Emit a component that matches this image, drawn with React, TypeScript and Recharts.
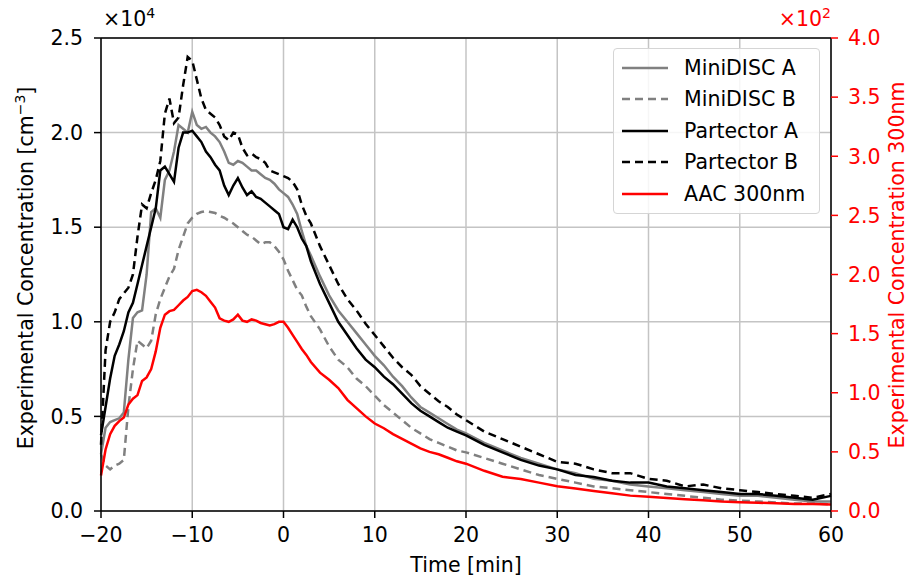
import {
    LineChart,
    Line,
    XAxis,
    YAxis,
    CartesianGrid,
    ReferenceLine,
} from "recharts";

// time in minutes
const TIME = [
    -20, -19.5, -19, -18.5, -18, -17.5, -17, -16.5, -16, -15.5, -15, -14.5, -14,
    -13.5, -13, -12.5, -12, -11.5, -11, -10.5, -10, -9.5, -9, -8.5, -8, -7.5, -7,
    -6.5, -6, -5.5, -5, -4.5, -4, -3.5, -3, -2.5, -2, -1.5, -1, -0.5, 0, 0.5, 1,
    1.5, 2, 2.5, 3, 4, 5, 6, 7, 8, 9, 10, 11, 12, 13, 14, 15, 16, 17, 18, 19, 20,
    22, 24, 26, 28, 30, 32, 34, 36, 38, 40, 42, 44, 46, 48, 50, 52, 54, 56, 58, 60,
];

// left axis, x10^4 cm^-3
const MINIDISC_A = [
    0.3, 0.44, 0.47, 0.48, 0.49, 0.52, 0.8, 1.02, 1.05, 1.06, 1.25, 1.58, 1.6,
    1.55, 1.75, 1.8, 1.9, 2.04, 2.02, 2.0, 2.11, 2.04, 2.02, 2.03, 2.0, 1.98, 1.95,
    1.9, 1.84, 1.83, 1.85, 1.84, 1.82, 1.8, 1.8, 1.78, 1.76, 1.75, 1.73, 1.7, 1.68,
    1.66, 1.62, 1.57, 1.48, 1.4, 1.35, 1.24, 1.14, 1.06, 1.0, 0.94, 0.88, 0.82,
    0.77, 0.71, 0.66, 0.6, 0.55, 0.52, 0.49, 0.46, 0.43, 0.41, 0.36, 0.32, 0.28,
    0.25, 0.22, 0.2, 0.17, 0.16, 0.14, 0.13, 0.12, 0.11, 0.1, 0.09, 0.08, 0.08,
    0.07, 0.06, 0.05, 0.05,
];

const MINIDISC_B = [
    0.3, 0.24, 0.22, 0.24, 0.25, 0.27, 0.55, 0.75, 0.9, 0.88, 0.86, 0.9, 1.04,
    1.12, 1.18, 1.24, 1.28, 1.38, 1.45, 1.52, 1.55, 1.57, 1.58, 1.585, 1.58, 1.575,
    1.56, 1.55, 1.535, 1.52, 1.5, 1.48, 1.46, 1.45, 1.43, 1.41, 1.42, 1.42, 1.4,
    1.37, 1.33, 1.27, 1.22, 1.17, 1.14, 1.08, 1.03, 0.96, 0.87, 0.8, 0.76, 0.7,
    0.66, 0.61, 0.56, 0.52, 0.48, 0.44, 0.41, 0.38, 0.36, 0.34, 0.32, 0.31, 0.28,
    0.25, 0.22, 0.19, 0.17, 0.15, 0.13, 0.12, 0.11, 0.1, 0.09, 0.08, 0.07, 0.06,
    0.055, 0.05, 0.045, 0.04, 0.04, 0.035,
];

const PARTECTOR_A = [
    0.4, 0.55, 0.7, 0.82, 0.88, 0.95, 1.05, 1.1, 1.2, 1.3, 1.4, 1.5, 1.6, 1.8,
    1.82, 1.78, 1.74, 1.92, 2.0, 2.0, 2.01, 1.98, 1.95, 1.9, 1.87, 1.83, 1.8, 1.72,
    1.67, 1.72, 1.76, 1.71, 1.67, 1.69, 1.66, 1.65, 1.63, 1.61, 1.59, 1.57, 1.5,
    1.49, 1.54, 1.5, 1.44, 1.4, 1.32, 1.2, 1.1, 1.0, 0.93, 0.86, 0.8, 0.76, 0.71,
    0.67, 0.62, 0.57, 0.53, 0.5, 0.47, 0.44, 0.42, 0.4, 0.35, 0.31, 0.27, 0.24,
    0.22, 0.19, 0.18, 0.16, 0.15, 0.15, 0.13, 0.12, 0.11, 0.1, 0.09, 0.09, 0.08,
    0.07, 0.06, 0.08,
];

const PARTECTOR_B = [
    0.35, 0.85, 1.0, 1.05, 1.12, 1.15, 1.18, 1.25, 1.45, 1.62, 1.6, 1.68, 1.75,
    1.85, 2.1, 2.18, 2.05, 2.08, 2.25, 2.4, 2.38, 2.28, 2.18, 2.12, 2.1, 2.08, 2.04,
    1.98, 1.96, 2.0, 1.99, 1.92, 1.88, 1.89, 1.87, 1.86, 1.84, 1.8, 1.79, 1.78,
    1.77, 1.76, 1.74, 1.7, 1.62, 1.56, 1.52, 1.4, 1.3, 1.2, 1.12, 1.06, 0.99, 0.93,
    0.87, 0.81, 0.76, 0.72, 0.66, 0.62, 0.58, 0.55, 0.51, 0.48, 0.42, 0.38, 0.34,
    0.3, 0.26, 0.25, 0.22, 0.2, 0.2, 0.17, 0.16, 0.13, 0.14, 0.12, 0.11, 0.1, 0.09,
    0.08, 0.07, 0.09,
];

// right axis, x10^2
const AAC_300NM = [
    0.3, 0.52, 0.65, 0.72, 0.76, 0.79, 0.9, 0.95, 0.98, 1.1, 1.13, 1.2, 1.35, 1.55,
    1.66, 1.69, 1.7, 1.74, 1.78, 1.81, 1.86, 1.87, 1.85, 1.82, 1.77, 1.72, 1.63,
    1.61, 1.6, 1.62, 1.66, 1.61, 1.6, 1.62, 1.61, 1.59, 1.58, 1.57, 1.58, 1.6, 1.6,
    1.55, 1.49, 1.43, 1.37, 1.32, 1.26, 1.17, 1.11, 1.04, 0.94, 0.87, 0.8, 0.74,
    0.7, 0.65, 0.61, 0.57, 0.53, 0.5, 0.48, 0.45, 0.42, 0.4, 0.34, 0.29, 0.27,
    0.24, 0.21, 0.19, 0.17, 0.15, 0.13, 0.12, 0.11, 0.1, 0.09, 0.08, 0.075, 0.07,
    0.065, 0.06, 0.06, 0.055,
];

const X_TICKS = [-20, -10, 0, 10, 20, 30, 40, 50, 60];
const LEFT_TICKS = [0, 0.5, 1.0, 1.5, 2.0, 2.5];
const RIGHT_TICKS = [0, 0.5, 1.0, 1.5, 2.0, 2.5, 3.0, 3.5, 4.0];

const SERIES = [
    { key: "miniA", name: "MiniDISC A", color: "#808080", dash: undefined },
    { key: "miniB", name: "MiniDISC B", color: "#808080", dash: "8 5" },
    { key: "partA", name: "Partector A", color: "#000000", dash: undefined },
    { key: "partB", name: "Partector B", color: "#000000", dash: "8 5" },
    { key: "aac", name: "AAC 300nm", color: "#ff0000", dash: undefined },
];

const FONT = "'DejaVu Sans', sans-serif";
const minus = (v: number) => String(v).replace("-", "\u2212");

const data = TIME.map((t, i) => ({
    t,
    miniA: MINIDISC_A[i],
    miniB: MINIDISC_B[i],
    partA: PARTECTOR_A[i],
    partB: PARTECTOR_B[i],
    aac: AAC_300NM[i],
}));

function LegendBox() {
    return (
        <div
            style={{
                position: "absolute",
                left: 613,
                top: 48,
                width: 205,
                border: "1px solid #d5d5d5",
                borderRadius: 4,
                background: "rgba(255,255,255,0.85)",
                padding: "3px 0",
                fontSize: 20.5,
                color: "#000",
            }}
        >
            {SERIES.map((s) => (
                <div
                    key={s.key}
                    style={{ display: "flex", alignItems: "center", height: 31.5 }}
                >
                    <svg width={70} height={10} style={{ flex: "none" }}>
                        <line
                            x1={8}
                            x2={54}
                            y1={5}
                            y2={5}
                            stroke={s.color}
                            strokeWidth={2.5}
                            strokeDasharray={s.dash}
                        />
                    </svg>
                    <span>{s.name}</span>
                </div>
            ))}
        </div>
    );
}

export default function App() {
    return (
        <div
            style={{
                position: "absolute",
                left: 0,
                top: 0,
                width: 910,
                height: 581,
                background: "#fff",
                fontFamily: FONT,
            }}
        >
            <LineChart
                width={910}
                height={581}
                data={data}
                margin={{ top: 38, right: 24, bottom: 40, left: 41 }}
            >
                <CartesianGrid
                    yAxisId="left"
                    stroke="#c4c4c4"
                    strokeWidth={1.5}
                />
                <XAxis
                    dataKey="t"
                    type="number"
                    domain={[-20, 60]}
                    ticks={X_TICKS}
                    tickFormatter={minus}
                    height={30}
                    tickSize={7}
                    tickMargin={9}
                    axisLine={{ stroke: "#000", strokeWidth: 1.5 }}
                    tickLine={{ stroke: "#000", strokeWidth: 1.5 }}
                    tick={{ fill: "#000", fontSize: 20.5, fontFamily: FONT }}
                />
                <YAxis
                    yAxisId="left"
                    domain={[0, 2.5]}
                    ticks={LEFT_TICKS}
                    tickFormatter={(v: number) => v.toFixed(1)}
                    width={60}
                    tickSize={7}
                    tickMargin={11}
                    axisLine={{ stroke: "#000", strokeWidth: 1.5 }}
                    tickLine={{ stroke: "#000", strokeWidth: 1.5 }}
                    tick={{ fill: "#000", fontSize: 20.5, fontFamily: FONT }}
                />
                <YAxis
                    yAxisId="right"
                    orientation="right"
                    domain={[0, 4]}
                    ticks={RIGHT_TICKS}
                    tickFormatter={(v: number) => v.toFixed(1)}
                    width={55}
                    tickSize={7}
                    tickMargin={10}
                    axisLine={{ stroke: "#000", strokeWidth: 1.5 }}
                    tickLine={{ stroke: "#ff0000", strokeWidth: 1.5 }}
                    tick={{ fill: "#ff0000", fontSize: 20.5, fontFamily: FONT }}
                />
                <ReferenceLine
                    yAxisId="left"
                    y={2.5}
                    stroke="#000"
                    strokeWidth={1.5}
                />
                {SERIES.map((s) => (
                    <Line
                        key={s.key}
                        yAxisId={s.key === "aac" ? "right" : "left"}
                        dataKey={s.key}
                        name={s.name}
                        type="linear"
                        stroke={s.color}
                        strokeWidth={2.5}
                        strokeDasharray={s.dash}
                        dot={false}
                        isAnimationActive={false}
                    />
                ))}
            </LineChart>

            <LegendBox />

            <div
                style={{
                    position: "absolute",
                    left: 103,
                    top: 5,
                    fontSize: 20.5,
                    color: "#000",
                }}
            >
                ×10<sup style={{ fontSize: 14 }}>4</sup>
            </div>
            <div
                style={{
                    position: "absolute",
                    right: 910 - 831,
                    top: 5,
                    fontSize: 20.5,
                    color: "#ff0000",
                }}
            >
                ×10<sup style={{ fontSize: 14 }}>2</sup>
            </div>
            <div
                style={{
                    position: "absolute",
                    left: 466,
                    top: 553,
                    transform: "translateX(-50%)",
                    fontSize: 20.5,
                    whiteSpace: "nowrap",
                }}
            >
                Time [min]
            </div>
            <div
                style={{
                    position: "absolute",
                    left: 25,
                    top: 268,
                    transform: "translate(-50%, -50%) rotate(-90deg)",
                    fontSize: 20.5,
                    whiteSpace: "nowrap",
                }}
            >
                Experimental Concentration [cm<sup style={{ fontSize: 14 }}>−3</sup>]
            </div>
            <div
                style={{
                    position: "absolute",
                    left: 897,
                    top: 265,
                    transform: "translate(-50%, -50%) rotate(-90deg)",
                    fontSize: 20.5,
                    whiteSpace: "nowrap",
                    color: "#ff0000",
                }}
            >
                Experimental Concentration 300nm
            </div>
        </div>
    );
}
